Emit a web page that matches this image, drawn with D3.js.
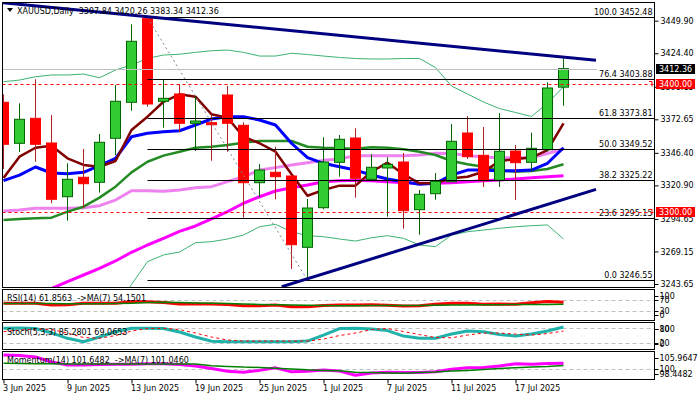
<!DOCTYPE html>
<html><head><meta charset="utf-8">
<script src="https://cdn.jsdelivr.net/npm/d3@7/dist/d3.min.js"></script>
<style>
html,body{margin:0;padding:0;background:#fff;}
svg{display:block;}
text{font-family:"DejaVu Sans",Verdana,sans-serif;font-size:8px;fill:#000;}
</style></head><body>
<svg id="chart" width="700" height="400"></svg>
<script>
// ---------------- DATA ----------------
const dates = ["2025-06-03","2025-06-04","2025-06-05","2025-06-06","2025-06-09","2025-06-10","2025-06-11","2025-06-12","2025-06-13",
"2025-06-16","2025-06-17","2025-06-18","2025-06-19","2025-06-20","2025-06-23","2025-06-24","2025-06-25","2025-06-26","2025-06-27","2025-06-30",
"2025-07-01","2025-07-02","2025-07-03","2025-07-04","2025-07-07","2025-07-08","2025-07-09","2025-07-10","2025-07-11",
"2025-07-14","2025-07-15","2025-07-16","2025-07-17","2025-07-18","2025-07-21","2025-07-22"];
const open  = [3385.98,3353.86,3373.45,3354.10,3312.03,3327.23,3323.31,3357.78,3385.98,3451.50,3386.77,3392.48,3369.53,3370.00,3391.70,3367.96,3323.00,3331.15,3328.25,3272.40,3303.42,3338.98,3358.02,3325.66,3334.52,3339.22,3301.85,3314.39,3323.78,3361.93,3344.46,3324.88,3347.83,3338.98,3348.85,3397.84];
const high  = [3392.25,3385.20,3404.00,3376.03,3338.19,3349.40,3361.15,3399.53,3447.08,3452.48,3404.00,3400.08,3390.68,3376.03,3398.75,3370.31,3337.65,3351.20,3329.00,3310.23,3358.56,3360.37,3365.61,3345.25,3342.90,3346.27,3317.28,3330.60,3368.98,3375.25,3366.63,3377.37,3352.53,3362.17,3401.65,3420.26];
const low   = [3333.73,3347.05,3339.45,3306.86,3293.23,3302.95,3315.17,3344.70,3379.40,3382.53,3366.08,3362.48,3347.83,3340.23,3347.28,3295.58,3312.03,3310.00,3255.40,3246.55,3302.17,3327.70,3311.25,3324.57,3296.37,3286.97,3282.27,3309.69,3323.30,3341.57,3319.63,3319.63,3309.45,3332.40,3347.50,3383.34];
const close = [3353.08,3372.66,3353.08,3310.00,3325.66,3322.22,3354.65,3386.77,3433.76,3384.65,3389.11,3369.53,3371.33,3368.43,3369.53,3323.00,3332.95,3327.70,3274.43,3303.18,3339.22,3357.00,3326.45,3335.06,3337.41,3301.07,3313.92,3324.10,3355.43,3343.37,3324.57,3347.60,3338.67,3349.95,3397.18,3412.36];

const maMaroon = [3326.7,3343.4,3350.4,3352.0,3342.1,3336.9,3335.5,3340.0,3364.3,3374.7,3386.4,3392.2,3390.4,3376.6,3373.9,3359.0,3353.9,3347.3,3329.6,3312.8,3317.3,3320.7,3320.7,3331.6,3338.7,3329.6,3322.5,3322.5,3326.4,3327.7,3331.6,3340.0,3341.6,3342.7,3348.6,3369.5];
const maBlue   = [3324.6,3329.0,3335.3,3330.6,3330.0,3331.1,3336.3,3342.1,3359.0,3361.7,3363.0,3363.7,3368.2,3372.9,3374.7,3374.7,3372.1,3368.2,3353.9,3342.6,3338.2,3335.5,3332.9,3329.0,3325.9,3323.8,3321.7,3322.5,3329.0,3332.9,3332.9,3332.2,3332.4,3332.9,3338.2,3350.4];
const maGreen  = [3293.8,3294.6,3295.1,3295.6,3300.3,3304.2,3311.3,3319.9,3331.1,3339.4,3344.2,3347.3,3350.4,3351.2,3352.5,3354.3,3355.7,3355.7,3355.7,3351.2,3350.4,3349.9,3349.6,3350.7,3350.4,3349.2,3347.3,3344.7,3340.0,3337.4,3335.5,3332.9,3331.6,3332.2,3333.7,3337.4];
const maViolet = [3300.8,3301.6,3302.9,3302.9,3302.9,3303.4,3305.0,3309.4,3316.7,3316.7,3316.3,3317.3,3319.1,3319.9,3323.8,3327.7,3332.9,3334.8,3336.9,3338.7,3340.5,3341.6,3344.2,3344.2,3344.2,3344.2,3344.7,3346.0,3345.9,3344.3,3343.1,3342.6,3342.6,3342.6,3345.9,3349.4];
const maMagenta= [null,null,null,3240.1,3245.5,3250.7,3255.9,3261.7,3268.5,3274.2,3279.4,3284.9,3289.1,3294.6,3300.3,3306.9,3312.0,3316.5,3319.1,3321.2,3323.8,3324.6,3324.9,3324.6,3323.8,3323.0,3322.5,3322.5,3323.0,3323.8,3324.6,3325.1,3325.9,3326.9,3327.7,3328.5];
const bbUpper  = [3402.1,3403.4,3406.0,3407.4,3407.4,3408.1,3405.2,3411.3,3415.2,3420.4,3423.0,3423.6,3425.1,3426.4,3426.9,3425.1,3422.2,3422.2,3424.4,3423.4,3422.2,3421.1,3420.3,3419.9,3419.9,3420.3,3420.3,3413.2,3398.7,3392.5,3386.2,3381.1,3378.0,3374.9,3385.2,3398.2];
const bbLower  = [null,null,null,null,null,null,null,3225.0,3243.3,3261.1,3266.4,3268.7,3276.0,3276.8,3278.9,3282.0,3288.5,3290.4,3284.6,3281.5,3280.7,3278.9,3277.3,3279.9,3281.5,3279.4,3274.2,3272.9,3282.0,3284.6,3285.9,3287.3,3288.5,3289.3,3289.9,3278.9];

const rsi    = [58.0,58.0,58.0,51.8,53.0,58.0,58.0,58.0,63.8,63.8,60.9,55.5,55.5,55.5,53.6,49.3,49.3,51.8,45.6,45.6,50.0,51.8,51.8,52.9,50.7,48.2,49.3,54.4,58.0,58.0,54.4,55.5,54.4,60.2,64.5,61.86];
const rsiMa  = [57.5,57.5,57.5,57.0,56.5,56.5,56.5,57.0,58.5,60.5,61.5,60.5,59.0,58.0,57.0,55.5,54.0,53.0,51.5,50.5,50.0,49.5,49.5,50.0,50.0,50.0,50.0,50.5,51.5,52.0,52.5,53.0,53.5,54.0,54.0,54.15];
const stochK = [80,81,79,62,40,26,45,66,80,80,79,65,45,28,26,26,26,26,26,29,53,79,80,77,71,49,40,40,57,69,66,55,49,57,69,85.28];
const stochD = [66.5,73,77,75,61,43,40,51,69,79,80,75,61,45,33,29,29,29,29,29,37,51,61,75,79,67,55,43,42,53,61,61,57,53,59,69.07];
const mom    = [103.9,103.8,103.4,102.0,101.2,101.2,101.3,101.4,101.4,101.5,101.5,101.3,100.9,100.2,99.45,99.2,99.7,100.4,99.3,99.45,99.8,99.5,98.35,99.0,99.2,99.1,99.1,99.3,100.0,100.4,100.5,100.9,101.5,101.4,101.6,101.65];
const momMa  = [101.65,101.6,101.55,101.5,101.45,101.45,101.45,101.45,101.45,101.45,101.45,101.45,101.45,101.0,100.8,100.6,100.5,100.3,100.1,99.85,99.7,99.6,99.2,99.1,99.0,98.9,99.1,99.25,99.5,99.7,99.95,100.2,100.45,100.65,100.8,101.05];

const priceTicks = [3449.90,3424.40,3398.15,3372.65,3346.40,3320.90,3294.65,3269.15,3243.65];
const fibLevels = ["100.0","76.4","61.8","50.0","38.2","23.6","0.0"];
const fibPrices = [3452.48,3403.88,3373.81,3349.52,3325.22,3295.15,3246.55];
const fibHighDate = "2025-06-16", fibLowDate = "2025-06-30";
const trendDownIdx = [-0.03, 37.03], trendDownPrice = [3464.0, 3418.9];
const trendUpIdx = [17.39, 37.03], trendUpPrice = [3241.5, 3317.8];
const redLevels = [3400.00, 3300.00];
const bidPrice = 3412.36, bidEndIdx = 37.1;
const xTickDates = ["2025-06-03","2025-06-09","2025-06-13","2025-06-19","2025-06-25","2025-07-01","2025-07-07","2025-07-11","2025-07-17"];
const xTickLabels = ["3 Jun 2025","9 Jun 2025","13 Jun 2025","19 Jun 2025","25 Jun 2025","1 Jul 2025","7 Jul 2025","11 Jul 2025","17 Jul 2025"];
const rsiLevels = [70,30], rsiLabels = [100,70,30,0];
const stochLevels = [80,20], stochLabels = [100,80,20,0];
const momLevels = [100], momLabels = ["105.9647","100","98.4482"], momLabelVals = [105.9647,100,98.4482];
const title = "XAUUSD,Daily  3397.84 3420.26 3383.34 3412.36";
const rsiTitle = "RSI(14) 61.8563  ->MA(7) 54.1501";
const stochTitle = "Stoch(5,3,3) 85.2801 69.0653";
const momTitle = "Momentum(14) 101.6482  ->MA(7) 101.0460";

// ---------------- LAYOUT ----------------
const svg = d3.select("#chart");
const L = 2.5, R = 654.5;
const P = {main:{t:2.5,b:287.5}, rsi:{t:289.5,b:320.5}, stoch:{t:322.5,b:349.5}, mom:{t:351.5,b:379.5}};
const n = dates.length;
const xIdx = d3.scaleLinear().domain([0, n-1]).range([3.5, 563.5]);
const xd = d => xIdx(dates.indexOf(d));
const yMain = d3.scaleLinear().domain([3243.65, 3449.90]).range([284, 20.7]);
const yRsi = d3.scaleLinear().domain([30,70]).range([311,300]);
const yStoch = d3.scaleLinear().domain([20,80]).range([343.3,328.3]);
const yMom = d3.scaleLinear().domain([100,105]).range([369.3,351.1]);

const defs = svg.append("defs");
Object.entries(P).forEach(([k,p])=>{
  defs.append("clipPath").attr("id","clip-"+k).append("rect")
    .attr("x",L+0.5).attr("y",p.t+0.5).attr("width",R-L-1).attr("height",p.b-p.t-1);
});

function series(g, vals, y, color, w, dash){
  const line = d3.line().defined(d=>d!=null).x((d,i)=>xIdx(i)).y(d=>y(d));
  const p = g.append("path").datum(vals).attr("d",line).attr("fill","none")
    .attr("stroke",color).attr("stroke-width",w).attr("stroke-linejoin","round");
  if(dash) p.attr("stroke-dasharray",dash);
  return p;
}

// ---------- main panel ----------
const gm = svg.append("g").attr("clip-path","url(#clip-main)");
series(gm, bbUpper, yMain, "#3CB371", 1);
series(gm, bbLower, yMain, "#3CB371", 1);
series(gm, maMagenta, yMain, "#FF00FF", 3);
series(gm, maViolet, yMain, "#EE82EE", 3);
series(gm, maGreen, yMain, "#228B22", 2.5);
series(gm, maBlue, yMain, "#0000FF", 3);
series(gm, maMaroon, yMain, "#800000", 2.5);

// candles
const candles = dates.map((d,i)=>({i, o:open[i], h:high[i], l:low[i], c:close[i]}));
const cg = gm.append("g").selectAll("g").data(candles).join("g");
cg.append("line")
  .attr("x1",d=>xIdx(d.i)).attr("x2",d=>xIdx(d.i))
  .attr("y1",d=>yMain(d.h)).attr("y2",d=>yMain(d.l))
  .attr("stroke",d=>d.c>=d.o?"#006400":"#B22222").attr("stroke-width",1);
cg.append("rect")
  .attr("x",d=>xIdx(d.i)-5).attr("width",10)
  .attr("y",d=>yMain(Math.max(d.o,d.c)))
  .attr("height",d=>Math.max(1,Math.abs(yMain(d.o)-yMain(d.c))))
  .attr("fill",d=>d.c>=d.o?"#32CD32":"#FF0000")
  .attr("stroke",d=>d.c>=d.o?"#006400":"#FF0000").attr("stroke-width",1);

// fib retracement
const fx0 = xd(fibHighDate);
gm.append("line").attr("x1",fx0).attr("y1",yMain(fibPrices[0]))
  .attr("x2",xd(fibLowDate)).attr("y2",yMain(fibPrices[fibPrices.length-1]))
  .attr("stroke","#778899").attr("stroke-width",1).attr("stroke-dasharray","2,3");
fibPrices.forEach((p,k)=>{
  const y = Math.round(yMain(p))+0.5;
  gm.append("line").attr("x1",fx0).attr("x2",R).attr("y1",y).attr("y2",y)
    .attr("stroke","#000").attr("stroke-width",1);
  gm.append("text").attr("x",R-2).attr("y",y-2.5).attr("text-anchor","end")
    .text(fibLevels[k]+" "+p.toFixed(2));
});

// horizontal lines
redLevels.forEach(p=>{
  const y = Math.round(yMain(p))+0.5;
  gm.append("line").attr("x1",L).attr("x2",R).attr("y1",y).attr("y2",y)
    .attr("stroke","#FF0000").attr("stroke-width",1).attr("stroke-dasharray","3,3");
});
{
  const y = Math.round(yMain(bidPrice))+0.5;
  gm.append("line").attr("x1",L).attr("x2",xIdx(bidEndIdx)).attr("y1",y).attr("y2",y)
    .attr("stroke","#C0C0C0").attr("stroke-width",1);
}
// trendlines
[[trendDownIdx,trendDownPrice],[trendUpIdx,trendUpPrice]].forEach(([ix,pr])=>{
  gm.append("line").attr("x1",xIdx(ix[0])).attr("y1",yMain(pr[0]))
    .attr("x2",xIdx(ix[1])).attr("y2",yMain(pr[1]))
    .attr("stroke","#000080").attr("stroke-width",3);
});

// title
svg.append("path").attr("d","M7,8 L13,8 L10,12 Z").attr("fill","#000");
svg.append("text").attr("x",17).attr("y",14).style("white-space","pre").text(title);

// ---------- RSI ----------
const gr = svg.append("g").attr("clip-path","url(#clip-rsi)");
rsiLevels.forEach(v=>{ const y=Math.round(yRsi(v))+0.5;
  gr.append("line").attr("x1",L).attr("x2",R).attr("y1",y).attr("y2",y)
  .attr("stroke","#C0C0C0").attr("stroke-dasharray","4,3"); });
series(gr, rsi, yRsi, "#FF0000", 3);
series(gr, rsiMa, yRsi, "#008000", 1.5);
svg.append("text").attr("x",7).attr("y",301).style("white-space","pre").text(rsiTitle);

// ---------- Stoch ----------
const gs = svg.append("g").attr("clip-path","url(#clip-stoch)");
stochLevels.forEach(v=>{ const y=Math.round(yStoch(v))+0.5;
  gs.append("line").attr("x1",L).attr("x2",R).attr("y1",y).attr("y2",y)
  .attr("stroke","#C0C0C0").attr("stroke-dasharray","4,3"); });
series(gs, stochK, yStoch, "#20B2AA", 3);
series(gs, stochD, yStoch, "#FF0000", 1, "3,3");
svg.append("text").attr("x",7).attr("y",334.5).style("white-space","pre").text(stochTitle);

// ---------- Momentum ----------
const gmo = svg.append("g").attr("clip-path","url(#clip-mom)");
momLevels.forEach(v=>{ const y=Math.round(yMom(v))+0.5;
  gmo.append("line").attr("x1",L).attr("x2",R).attr("y1",y).attr("y2",y)
  .attr("stroke","#C0C0C0").attr("stroke-dasharray","4,3"); });
series(gmo, mom, yMom, "#FF00FF", 3);
series(gmo, momMa, yMom, "#008000", 1.5);
svg.append("text").attr("x",7).attr("y",363).style("white-space","pre").text(momTitle);

// ---------- panel borders ----------
Object.values(P).forEach(p=>{
  svg.append("rect").attr("x",L).attr("y",p.t).attr("width",R-L).attr("height",p.b-p.t)
    .attr("fill","none").attr("stroke","#000").attr("stroke-width",1);
});

// ---------- price axis ----------
const ax = svg.append("g").attr("transform",`translate(${R},0)`)
  .call(d3.axisRight(yMain).tickValues(priceTicks).tickSize(4).tickSizeOuter(0).tickPadding(2).tickFormat(d3.format(".2f")));
ax.select(".domain").remove();
ax.selectAll("text").attr("font-size",null).attr("font-family",null).attr("fill","#000");
ax.attr("font-size",null).attr("font-family",null);

// price boxes
function priceBox(v, bg){
  const y = yMain(v);
  svg.append("rect").attr("x",656).attr("y",Math.round(y)-5).attr("width",39).attr("height",10).attr("fill",bg);
  svg.append("text").attr("x",659).attr("y",Math.round(y)+3).style("fill","#fff").text(v.toFixed(2));
}
priceBox(bidPrice, "#000");
redLevels.forEach(v=>priceBox(v, "#FF0000"));
// small markers at right end of red lines
redLevels.forEach(v=>{ const y=Math.round(yMain(v))+0.5;
  svg.append("path").attr("d",`M649,${y-3} L652,${y-3} L652,${y+2}`).attr("fill","none").attr("stroke","#FF0000"); });

// ---------- sub panel labels ----------
function subLabels(vals, labels, y, p){
  vals.forEach((v,k)=>{
    const yy = Math.max(p.t+6, Math.min(p.b-6, y(v)));
    svg.append("line").attr("x1",R).attr("x2",R+4).attr("y1",Math.round(yy)+0.5).attr("y2",Math.round(yy)+0.5).attr("stroke","#000");
    svg.append("text").attr("x",R+5).attr("y",yy+3).text(labels[k]);
  });
}
subLabels(rsiLabels, rsiLabels.map(String), yRsi, P.rsi);
subLabels(stochLabels, stochLabels.map(String), yStoch, P.stoch);
subLabels(momLabelVals, momLabels, yMom, P.mom);

// ---------- date axis ----------
const xa = svg.append("g").attr("transform",`translate(0,${P.mom.b})`)
  .call(d3.axisBottom(xIdx).tickValues(xTickDates.map(d=>dates.indexOf(d))).tickSize(4).tickSizeOuter(0).tickPadding(2)
    .tickFormat((d,k)=>xTickLabels[k]));
xa.select(".domain").remove();
xa.attr("font-size",null).attr("font-family",null);
xa.selectAll("text").attr("text-anchor","start").attr("x",-1).attr("fill","#000");
</script>
</body></html>
